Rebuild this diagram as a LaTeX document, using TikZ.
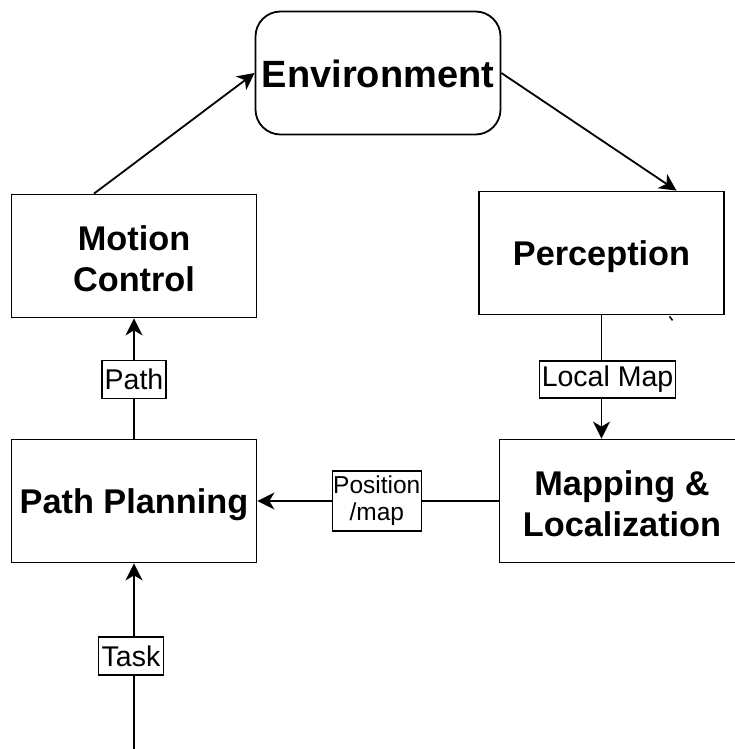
\documentclass[tikz,border=0pt]{standalone}
\usepackage{fontspec}
\setmainfont{Liberation Sans}
\usetikzlibrary{arrows.meta,calc}
\newcommand{\topstrut}{\rule{0pt}{31pt}}
\begin{document}
\begin{tikzpicture}[x=1pt,y=-1pt,
  box/.style={draw,line width=1.8pt,minimum width=245pt,minimum height=123pt,inner sep=0pt,align=center,font=\fontsize{34.3}{41}\selectfont\bfseries},
  one/.style={text height=25.5pt,text depth=0pt},
  envbox/.style={box,rounded corners=25pt,font=\fontsize{38}{44}\selectfont\bfseries,text height=29pt,text depth=0pt},
  lbl/.style={draw,fill=white,line width=1.5pt,inner sep=0pt,align=center,font=\fontsize{28.5}{30}\selectfont},
  arr/.style={line width=1.8pt,-{Stealth[length=17pt,width=17pt,inset=5pt]}},
  ln/.style={line width=1.8pt}]
\useasboundingbox (0,0) rectangle (734,749);
\node[envbox] (env) at (378,73) {Environment};
\node[box] (mc) at (134,256) {\topstrut Motion\\Control};
\node[box,one] (perc) at (601.5,253) {Perception};
\node[box,one] (pp) at (134,501) {Path Planning};
\node[box] (map) at (622,501) {\topstrut Mapping \&\\Localization};
\coordinate (taskin) at (134,749);

\draw[arr] ([xshift=-40pt]mc.north) -- (env.west);
\draw[arr] (env.east) -- ([xshift=75pt]perc.north);
\draw[arr] (perc.south) -- (perc.south |- map.north)
  node[lbl,pos=0.52,xshift=6pt,minimum width=136pt,minimum height=37pt] {Local Map};
\draw[arr] (map.west) -- (pp.east)
  node[lbl,pos=0.505,minimum width=89pt,minimum height=60pt,font=\fontsize{24.5}{27}\selectfont] {Position\\/map};
\draw[arr] (pp.north) -- (mc.south)
  node[lbl,pos=0.49,minimum width=64pt,minimum height=38pt] {Path};
\draw[arr] (taskin) -- (pp.south)
  node[lbl,pos=0.5,xshift=-3pt,minimum width=65pt,minimum height=38pt] {Task};
\draw[line width=1.5pt] ([xshift=68pt,yshift=-1pt]perc.south) -- ++(3,4);
\end{tikzpicture}
\end{document}
